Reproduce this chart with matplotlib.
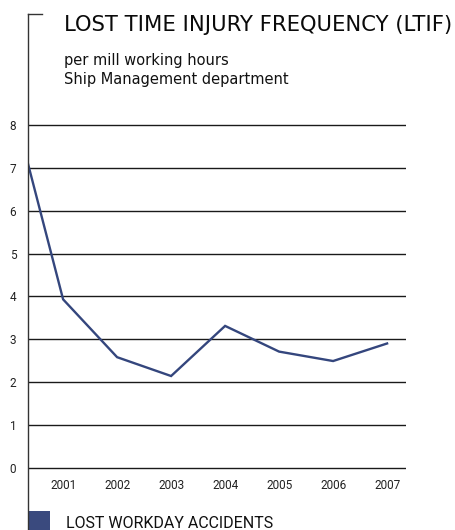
import matplotlib
matplotlib.use("Agg")
import matplotlib.pyplot as plt
from matplotlib.lines import Line2D
from matplotlib.patches import Rectangle

# Lost time injury frequency, per mill working hours
years = [2000, 2001, 2002, 2003, 2004, 2005, 2006, 2007]
ltif = [8.8, 3.93, 2.58, 2.14, 3.31, 2.71, 2.49, 2.90]
year_labels = ["2001", "2002", "2003", "2004", "2005", "2006", "2007"]
y_ticks = [0, 1, 2, 3, 4, 5, 6, 7, 8]

title = "LOST TIME INJURY FREQUENCY (LTIF)"
subtitle = "per mill working hours\nShip Management department"
legend_label = "LOST WORKDAY ACCIDENTS"

LINE_COLOR = "#34467d"
GRID_COLOR = "#1a1a1a"
FONT = ["Roboto", "DejaVu Sans"]
HEAD_FONT = ["DejaVu Sans"]

W, H = 456, 530
DPI = 100
fig = plt.figure(figsize=(W / DPI, H / DPI), dpi=DPI)
fig.patch.set_facecolor("white")

# axes placement in pixels (value 0 -> y=467.7, value 8 -> y=125)
x0_px, x1_px = 28, 406
y0_px, y8_px = 467.7, 125
pad = 0.08
unit = (y0_px - y8_px) / 8.0
bottom_px = y0_px + pad * unit
top_px = y8_px - pad * unit
ax = fig.add_axes([x0_px / W, 1 - bottom_px / H, (x1_px - x0_px) / W, (bottom_px - top_px) / H])
ax.set_facecolor("none")

ax.set_xlim(2000.35, 2007.35)
ax.set_ylim(-pad, 8 + pad)

for v in y_ticks:
    ax.axhline(v, color=GRID_COLOR, lw=1.0, zorder=1)

ax.plot(years, ltif, color=LINE_COLOR, lw=1.7, zorder=3, solid_joinstyle="miter")

for s in ax.spines.values():
    s.set_visible(False)

ax.set_yticks(y_ticks)
ax.set_yticklabels([str(v) for v in y_ticks], fontfamily=FONT, fontsize=8.5, color="#222222")
ax.set_xticks(years[1:])
ax.set_xticklabels(year_labels, fontfamily=FONT, fontsize=8.5, color="#222222")
ax.tick_params(axis="y", length=0, pad=8.5)
ax.tick_params(axis="x", length=0, pad=6)

# left rule running the full height with a short cap at the top
fig.add_artist(Line2D([28 / W, 28 / W], [1 - 14 / H, 0], color="#333333", lw=1.0,
                      transform=fig.transFigure))
fig.add_artist(Line2D([28 / W, 42 / W], [1 - 14 / H, 1 - 14 / H], color="#333333", lw=1.0,
                      transform=fig.transFigure))

fig.text(64 / W, 1 - 31.3 / H, title, fontfamily=HEAD_FONT, fontsize=15.2, color="#0a0a0a",
         ha="left", va="baseline")
fig.text(64 / W, 1 - 84 / H, subtitle, fontfamily=HEAD_FONT, fontsize=10.5, color="#111111",
         ha="left", va="baseline", linespacing=1.3)

# legend swatch and label
fig.add_artist(Rectangle((28 / W, 0), 22 / W, 19 / H, facecolor="#3a4a7e", edgecolor="none",
                         transform=fig.transFigure))
fig.text(66 / W, 1 - 528 / H, legend_label, fontfamily=FONT, fontsize=11.5, color="#111111",
         ha="left", va="baseline")

fig.savefig("out.png", dpi=DPI, facecolor="white")
